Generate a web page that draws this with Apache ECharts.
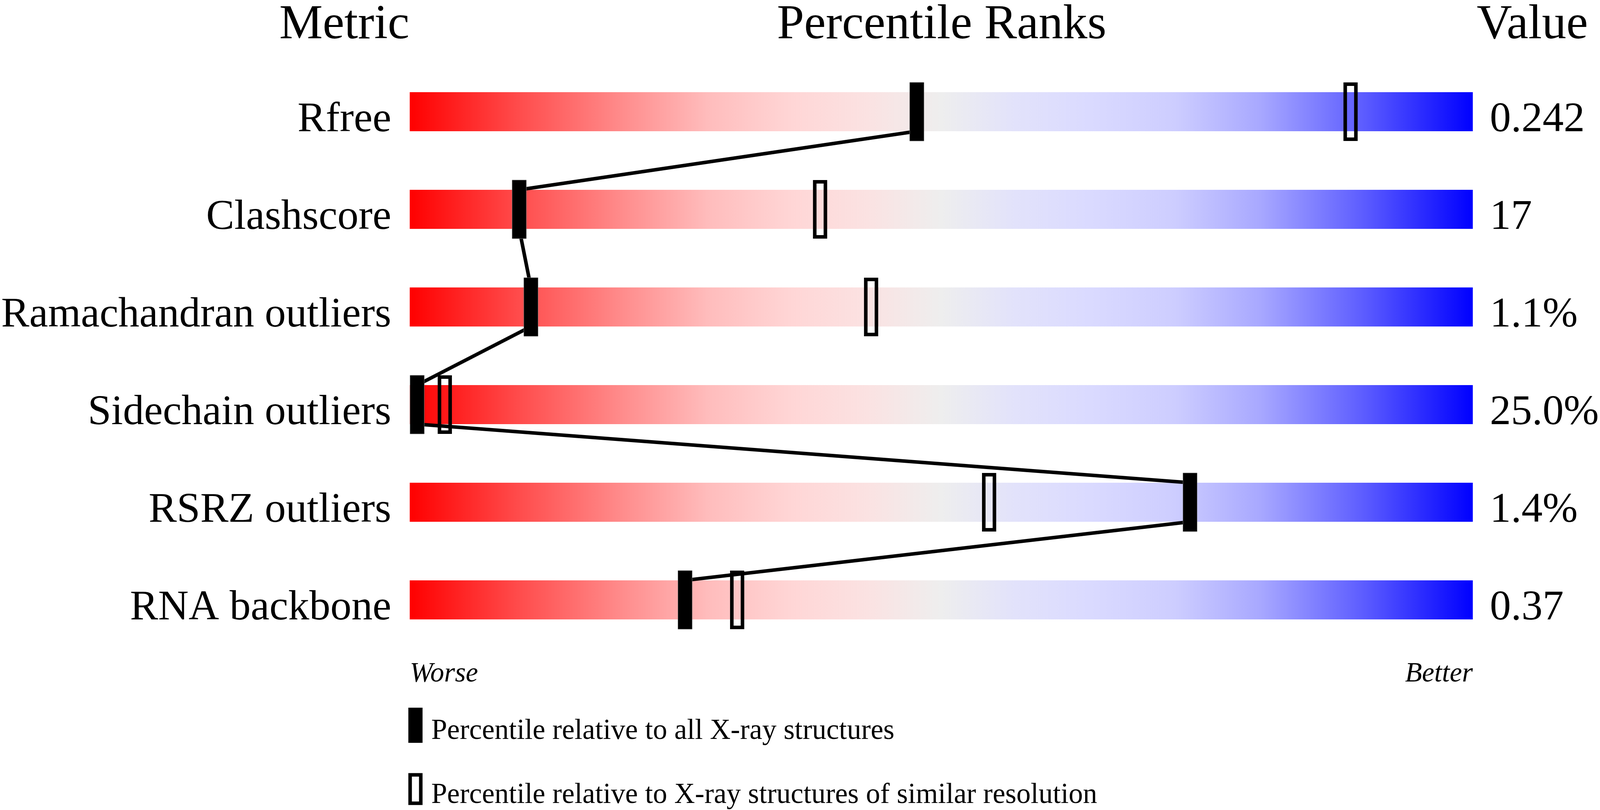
<!DOCTYPE html>
<html>
<head>
<meta charset="utf-8">
<script src="https://cdn.jsdelivr.net/npm/echarts@6/dist/echarts.min.js"></script>
<style>
html, body { margin: 0; padding: 0; background: #fff; width: 100%; height: 100%; overflow: hidden; }
#chart { width: 100vw; height: 100vh; }
</style>
</head>
<body>
<div id="chart"></div>
<script>
// rows, top to bottom
var metrics = ['Rfree', 'Clashscore', 'Ramachandran outliers', 'Sidechain outliers', 'RSRZ outliers', 'RNA backbone'];
var metricValues = ['0.242', '17', '1.1%', '25.0%', '1.4%', '0.37'];
// percentile ranks
var pctAll = [47.7, 10.3, 11.4, 0.7, 73.4, 25.9];
var pctSimilar = [88.5, 38.6, 43.4, 3.3, 54.5, 30.8];
// full track of every slider (0..100)
var trackEnd = [100, 100, 100, 100, 100, 100];
var scaleEnds = ['Worse', 'Better'];
var legendNames = ['Percentile relative to all X-ray structures',
	'Percentile relative to X-ray structures of similar resolution'];

var FONT = '"Liberation Serif", "Times New Roman", serif';

var el = document.getElementById('chart');
var chart = echarts.init(el);
// layout was measured on a 4506 x 2074 picture, scale it to the real page
var sx = chart.getWidth() / 4506, sy = chart.getHeight() / 2074, s = Math.min(sx, sy);
function X(v) { return v * sx; }
function Y(v) { return v * sy; }
function F(v) { return Math.round(v * s); }
var BAR_H = Y(100);

// red -> grey -> blue track
var trackColor = new echarts.graphic.LinearGradient(0, 0, 1, 0, [
	{ offset: 0, color: '#ff0000' },
	{ offset: 0.1, color: '#ff4a4a' },
	{ offset: 0.2, color: '#ff8c8c' },
	{ offset: 0.28, color: '#ffbcbc' },
	{ offset: 0.36, color: '#ffd6d6' },
	{ offset: 0.43, color: '#fbe2e2' },
	{ offset: 0.5, color: '#eeeeee' },
	{ offset: 0.57, color: '#e2e2fb' },
	{ offset: 0.64, color: '#dadaff' },
	{ offset: 0.72, color: '#cdcdff' },
	{ offset: 0.8, color: '#a8a8ff' },
	{ offset: 0.9, color: '#5a5aff' },
	{ offset: 1, color: '#0000ff' }
]);

function points(arr) {
	var out = [];
	for (var i = 0; i < arr.length; i++) {
		out.push([arr[i], i]);
	}
	return out;
}

// labels sit on the bottom edge of their track, so push them down a little
var rowLabel = { fontFamily: FONT, fontSize: F(119), color: '#000', padding: [Y(44), 0, 0, 0] };

var option = {
	backgroundColor: '#ffffff',
	animation: false,
	grid: { left: X(1152), right: X(353), top: Y(161), bottom: Y(413) },
	xAxis: {
		type: 'value', min: 0, max: 100, interval: 100,
		axisLine: { show: false }, axisTick: { show: false }, splitLine: { show: false },
		axisLabel: {
			margin: Y(30),
			fontFamily: FONT, fontStyle: 'italic', fontSize: F(78), color: '#000',
			alignMinLabel: 'left', alignMaxLabel: 'right',
			formatter: function (v) { return v === 0 ? scaleEnds[0] : scaleEnds[1]; }
		}
	},
	yAxis: [{
		type: 'category', data: metrics, inverse: true, position: 'left',
		axisLine: { show: false }, axisTick: { show: false }, splitLine: { show: false },
		axisLabel: {
			margin: X(52),
			formatter: function (v) { return '{r|' + v + '}'; },
			rich: { r: rowLabel }
		}
	}, {
		type: 'category', data: metricValues, inverse: true, position: 'right',
		axisLine: { show: false }, axisTick: { show: false }, splitLine: { show: false },
		axisLabel: {
			margin: X(48),
			formatter: function (v) { return '{r|' + v + '}'; },
			rich: { r: rowLabel }
		}
	}],
	legend: {
		orient: 'vertical', left: X(1150), top: Y(1812), height: Y(400),
		padding: 0,
		itemWidth: X(40), itemHeight: Y(90), itemGap: Y(70),
		selectedMode: false,
		formatter: function (name) { return '{t|' + name + '}'; },
		textStyle: {
			fontFamily: FONT, fontSize: F(80), color: '#000',
			rich: { t: { fontFamily: FONT, fontSize: F(80), color: '#000', padding: [Y(16), 0, -Y(16), X(19)] } }
		},
		data: [
			{ name: legendNames[0], icon: 'rect', itemStyle: { color: '#000', borderWidth: 0 } },
			{ name: legendNames[1], icon: 'path://M0,0H40V90H0Z M10,10V80H30V10Z', itemStyle: { color: '#000', borderWidth: 0 } }
		]
	},
	graphic: [
		{ type: 'text', x: X(1153), y: Y(65), style: { text: 'Metric', font: F(138) + 'px ' + FONT, fill: '#000', align: 'right', verticalAlign: 'middle' } },
		{ type: 'text', x: X(2652), y: Y(65), style: { text: 'Percentile Ranks', font: F(138) + 'px ' + FONT, fill: '#000', align: 'center', verticalAlign: 'middle' } },
		{ type: 'text', x: X(4159), y: Y(65), style: { text: 'Value', font: F(138) + 'px ' + FONT, fill: '#000', align: 'left', verticalAlign: 'middle' } }
	],
	series: [{
		type: 'bar',
		data: trackEnd,
		barWidth: BAR_H,
		silent: true,
		itemStyle: { color: trackColor },
		z: 1
	}, {
		// connecting line: bottom of one track to top of the next
		type: 'custom',
		data: points(pctAll),
		encode: { x: 0, y: 1 },
		silent: true,
		z: 2,
		renderItem: function (params, api) {
			var i = params.dataIndex;
			if (i >= pctAll.length - 1) return null;
			var a = api.coord([pctAll[i], i]);
			var b = api.coord([pctAll[i + 1], i + 1]);
			return {
				type: 'line',
				shape: { x1: a[0], y1: a[1] + BAR_H / 2, x2: b[0], y2: b[1] - BAR_H / 2 },
				style: { stroke: '#000', lineWidth: 10 * s }
			};
		}
	}, {
		name: legendNames[0],
		type: 'custom',
		data: points(pctAll),
		encode: { x: 0, y: 1 },
		itemStyle: { color: '#000' },
		z: 3,
		renderItem: function (params, api) {
			var c = api.coord([api.value(0), api.value(1)]);
			return {
				type: 'rect',
				shape: { x: c[0] - X(20), y: c[1] - Y(75), width: X(40), height: Y(150) },
				style: { fill: '#000', stroke: '#777', lineWidth: 1 }
			};
		}
	}, {
		name: legendNames[1],
		type: 'custom',
		data: points(pctSimilar),
		encode: { x: 0, y: 1 },
		itemStyle: { color: '#000' },
		z: 4,
		renderItem: function (params, api) {
			var c = api.coord([api.value(0), api.value(1)]);
			var lw = 10 * s;
			return {
				type: 'rect',
				shape: { x: c[0] - X(20) + lw / 2, y: c[1] - Y(75) + lw / 2, width: X(40) - lw, height: Y(150) - lw },
				style: { fill: 'none', stroke: '#000', lineWidth: lw }
			};
		}
	}]
};

chart.setOption(option);
window.addEventListener('resize', function () { chart.resize(); });
</script>
</body>
</html>
